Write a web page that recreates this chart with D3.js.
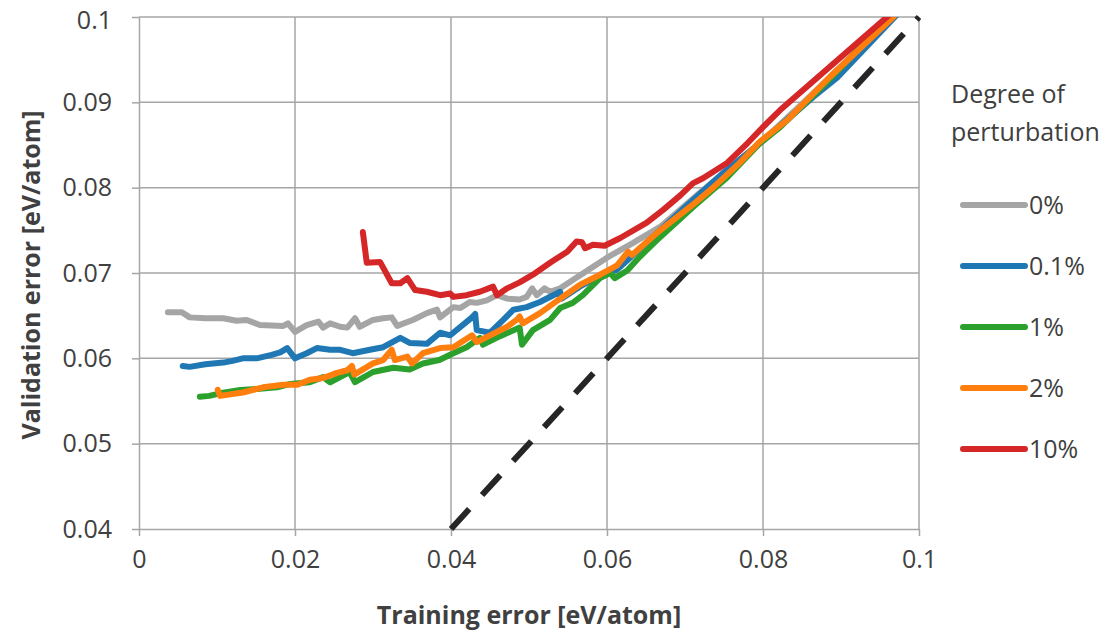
<!DOCTYPE html>
<html>
<head>
<meta charset="utf-8">
<script src="https://d3js.org/d3.v7.min.js"></script>
<style>
  body { margin: 0; background: #fff; }
  text { font-family: "Open Sans", sans-serif; fill: #404040; }
  .grid line { stroke: #a6a6a6; stroke-width: 1.5; }
  .series { fill: none; stroke-width: 6; stroke-linejoin: round; stroke-linecap: round; }
</style>
</head>
<body>
<svg id="chart" width="1119" height="636"></svg>
<script>
// tick labels
var xTicks = [0, 0.02, 0.04, 0.06, 0.08, 0.1];
var yTicks = [0.04, 0.05, 0.06, 0.07, 0.08, 0.09, 0.1];

// legend entries
var labels = ["0%", "0.1%", "1%", "2%", "10%"];
var colors = ["#a5a5a5", "#1f77b4", "#2ca02c", "#ff7f0e", "#d62728"];

// [training error, validation error]
var pert0 = [[0.0037,0.0654],[0.0055,0.0654],[0.0065,0.0648],[0.0085,0.0647],[0.0108,0.0647],[0.0125,0.0644],[0.0138,0.0645],[0.0155,0.0639],[0.0185,0.0638],[0.0191,0.0641],[0.0200,0.0631],[0.0215,0.0639],[0.0230,0.0643],[0.0236,0.0636],[0.0245,0.0641],[0.0258,0.0637],[0.0267,0.0636],[0.0277,0.0647],[0.0283,0.0637],[0.0300,0.0645],[0.0313,0.0647],[0.0324,0.0648],[0.0331,0.0638],[0.0351,0.0645],[0.0369,0.0653],[0.0382,0.0657],[0.0386,0.0648],[0.0403,0.0660],[0.0412,0.0659],[0.0424,0.0666],[0.0433,0.0665],[0.0446,0.0668],[0.0459,0.0674],[0.0472,0.0670],[0.0488,0.0669],[0.0497,0.0672],[0.0504,0.0682],[0.0510,0.0674],[0.0520,0.0682],[0.0527,0.0678],[0.0540,0.0682],[0.0570,0.0700],[0.0600,0.0718],[0.0633,0.0735],[0.0668,0.0754],[0.0719,0.0794],[0.0760,0.0825],[0.0803,0.0858],[0.0850,0.0898],[0.0900,0.0942],[0.0970,0.1006]];
var pert01 = [[0.0056,0.0591],[0.0065,0.0590],[0.0085,0.0593],[0.0108,0.0595],[0.0120,0.0597],[0.0133,0.0600],[0.0151,0.0600],[0.0170,0.0604],[0.0181,0.0607],[0.0190,0.0612],[0.0200,0.0600],[0.0215,0.0606],[0.0228,0.0612],[0.0245,0.0610],[0.0258,0.0610],[0.0274,0.0606],[0.0296,0.0610],[0.0313,0.0613],[0.0335,0.0624],[0.0347,0.0618],[0.0369,0.0617],[0.0386,0.0630],[0.0399,0.0627],[0.0427,0.0648],[0.0431,0.0652],[0.0433,0.0633],[0.0450,0.0630],[0.0467,0.0645],[0.0480,0.0657],[0.0497,0.0660],[0.0514,0.0666],[0.0540,0.0678],[0.0542,0.0670],[0.0565,0.0684],[0.0587,0.0695],[0.0613,0.0704],[0.0626,0.0715],[0.0655,0.0739],[0.0700,0.0777],[0.0750,0.0818],[0.0800,0.0855],[0.0864,0.0906],[0.0895,0.0929],[0.0969,0.1000],[0.0980,0.1011]];
var pert1 = [[0.0078,0.0555],[0.0090,0.0556],[0.0104,0.0559],[0.0130,0.0563],[0.0151,0.0564],[0.0177,0.0566],[0.0194,0.0570],[0.0219,0.0572],[0.0236,0.0578],[0.0245,0.0572],[0.0270,0.0584],[0.0277,0.0572],[0.0300,0.0584],[0.0326,0.0589],[0.0347,0.0587],[0.0364,0.0594],[0.0385,0.0598],[0.0403,0.0606],[0.0420,0.0613],[0.0437,0.0624],[0.0441,0.0616],[0.0463,0.0626],[0.0488,0.0636],[0.0491,0.0616],[0.0505,0.0633],[0.0527,0.0645],[0.0540,0.0659],[0.0556,0.0665],[0.0569,0.0674],[0.0591,0.0694],[0.0604,0.0700],[0.0610,0.0694],[0.0626,0.0703],[0.0642,0.0719],[0.0668,0.0742],[0.0710,0.0777],[0.0754,0.0812],[0.0796,0.0852],[0.0822,0.0871],[0.0880,0.0922],[0.0963,0.1000],[0.0975,0.1011]];
var pert2 = [[0.0101,0.0563],[0.0104,0.0556],[0.0133,0.0560],[0.0159,0.0566],[0.0185,0.0569],[0.0203,0.0569],[0.0219,0.0575],[0.0236,0.0577],[0.0254,0.0583],[0.0267,0.0586],[0.0273,0.0591],[0.0276,0.0581],[0.0300,0.0594],[0.0313,0.0598],[0.0324,0.0610],[0.0328,0.0598],[0.0344,0.0602],[0.0350,0.0594],[0.0364,0.0606],[0.0386,0.0612],[0.0403,0.0613],[0.0427,0.0627],[0.0433,0.0619],[0.0450,0.0627],[0.0472,0.0637],[0.0484,0.0645],[0.0488,0.0649],[0.0492,0.0641],[0.0514,0.0653],[0.0540,0.0670],[0.0565,0.0686],[0.0591,0.0698],[0.0613,0.0709],[0.0627,0.0725],[0.0632,0.0721],[0.0668,0.0750],[0.0710,0.0780],[0.0736,0.0800],[0.0770,0.0829],[0.0796,0.0854],[0.0831,0.0879],[0.0886,0.0930],[0.0967,0.1000],[0.0978,0.1011]];
var pert10 = [[0.0287,0.0748],[0.0292,0.0712],[0.0309,0.0713],[0.0324,0.0688],[0.0335,0.0688],[0.0344,0.0694],[0.0354,0.0680],[0.0369,0.0678],[0.0386,0.0674],[0.0399,0.0676],[0.0403,0.0672],[0.0420,0.0674],[0.0437,0.0678],[0.0454,0.0684],[0.0459,0.0674],[0.0472,0.0682],[0.0488,0.0689],[0.0505,0.0698],[0.0527,0.0712],[0.0549,0.0725],[0.0561,0.0737],[0.0568,0.0736],[0.0572,0.0729],[0.0582,0.0733],[0.0597,0.0732],[0.0617,0.0741],[0.0651,0.0759],[0.0672,0.0774],[0.0694,0.0791],[0.0710,0.0805],[0.0723,0.0811],[0.0754,0.0829],[0.0780,0.0852],[0.0800,0.0871],[0.0822,0.0891],[0.0959,0.1000],[0.0972,0.1011]];
var series = [pert0, pert01, pert1, pert2, pert10];

// y = x reference
var parity = [[0.04, 0.04], [0.1, 0.1]];

var svg = d3.select("#chart");
var x = d3.scaleLinear().domain([0, 0.1]).range([139, 919]);
var y = d3.scaleLinear().domain([0.04, 0.1]).range([529, 17]);

svg.append("clipPath").attr("id", "plot")
  .append("rect").attr("x", 139).attr("y", 17).attr("width", 780).attr("height", 512);

// gridlines
svg.append("g").attr("class", "grid")
  .selectAll("line").data(xTicks.slice(1)).enter().append("line")
  .attr("x1", d => x(d)).attr("x2", d => x(d)).attr("y1", 17).attr("y2", 529);
svg.append("g").attr("class", "grid")
  .selectAll("line").data(yTicks.slice(1)).enter().append("line")
  .attr("x1", 139).attr("x2", 919).attr("y1", d => y(d)).attr("y2", d => y(d));

// axes
var xAxis = svg.append("g").attr("transform", "translate(0,529)")
  .call(d3.axisBottom(x).tickValues(xTicks).tickFormat(d => d).tickSizeInner(7).tickSizeOuter(0).tickPadding(14));
var yAxis = svg.append("g").attr("transform", "translate(139,0)")
  .call(d3.axisLeft(y).tickValues(yTicks).tickFormat(d => d).tickSizeInner(7).tickSizeOuter(0).tickPadding(20));
[xAxis, yAxis].forEach(function(a) {
  a.selectAll("path, line").attr("stroke", "#a6a6a6").attr("stroke-width", 1.5);
  a.selectAll("text").style("font-size", "25px").attr("fill", "#404040");
});
// keep the top label inside the frame
yAxis.selectAll(".tick text").filter(d => d === 0.1).attr("dy", "0.45em");

var line = d3.line().x(d => x(d[0])).y(d => y(d[1]));

svg.append("path").datum(parity)
  .attr("d", line).attr("fill", "none").attr("stroke", "#262626")
  .attr("stroke-width", 6).attr("stroke-dasharray", "27,19");

svg.append("g").attr("clip-path", "url(#plot)")
  .selectAll("path").data(series).enter().append("path")
  .attr("class", "series")
  .attr("stroke", (d, i) => colors[i])
  .attr("d", line);

// axis titles
svg.append("text").attr("x", 529).attr("y", 624).attr("text-anchor", "middle")
  .style("font-size", "25px").style("font-weight", "bold").text("Training error [eV/atom]");
svg.append("text").attr("transform", "translate(40,275) rotate(-90)").attr("text-anchor", "middle")
  .style("font-size", "25px").style("font-weight", "bold").text("Validation error [eV/atom]");

// legend
var legend = svg.append("g");
legend.append("text").attr("x", 951).attr("y", 103).style("font-size", "25px").text("Degree of");
legend.append("text").attr("x", 951).attr("y", 141).style("font-size", "25px").text("perturbation");
var ly = d3.scalePoint().domain(labels).range([205, 449]);
var items = legend.selectAll("g.item").data(labels).enter().append("g").attr("class", "item");
items.append("line")
  .attr("x1", 963).attr("x2", 1025)
  .attr("y1", d => ly(d)).attr("y2", d => ly(d))
  .attr("stroke", (d, i) => colors[i]).attr("stroke-width", 6).attr("stroke-linecap", "round");
items.append("text").attr("x", 1029).attr("y", d => ly(d)).attr("dy", "0.35em")
  .style("font-size", "25px").text(d => d);
</script>
</body>
</html>
